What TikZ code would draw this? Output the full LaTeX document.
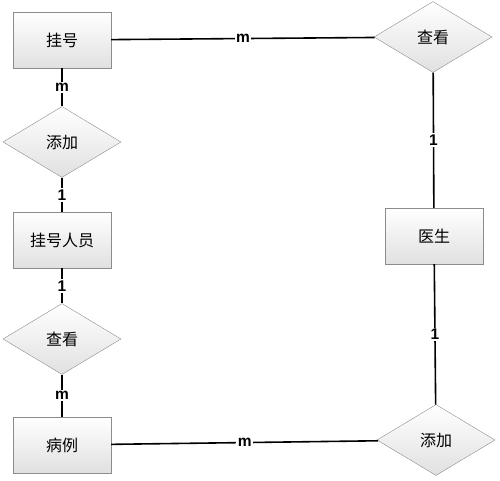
\documentclass[tikz,border=0pt]{standalone}
\usepackage{fontspec}
\newfontfamily\cjk{Noto Sans CJK SC}
\newfontfamily\card{Liberation Sans}
\usetikzlibrary{shapes.geometric}

\begin{document}
\begin{tikzpicture}[
            x=1pt, y=-1pt,
            entity/.style={rectangle,draw=black!45,top color=white,bottom color=black!12,
                minimum width=98pt,minimum height=56pt,font=\cjk\fontsize{16}{16}\selectfont},
            rel/.style={diamond,draw=black!45,top color=white,bottom color=black!12,inner sep=0pt,
                minimum width=118pt,minimum height=71pt,font=\cjk\fontsize{16}{16}\selectfont},
            conn/.style={line width=1.6pt},
            card/.style={fill=white,inner sep=1.5pt,font=\card\bfseries\fontsize{15.5}{15.5}\selectfont}]
            \useasboundingbox (0,0) rectangle (500,480);
            \node[entity](guahao) at (62,40){挂号};
            \node[rel](addreg) at (62,142){添加};
            \node[entity](staff) at (62,240){挂号人员};
            \node[rel](viewcase) at (62,339){查看};
            \node[entity](cases) at (62,445){病例};
            \node[rel](viewreg) at (433,37){查看};
            \node[entity](doctor) at (434,236){医生};
            \node[rel](addcase) at (436,440){添加};
            
            \path[conn] (guahao)  edge node[card]{m} (viewreg)
            (guahao)  edge node[card]{m} (addreg)
            (addreg)  edge node[card]{1} (staff)
            (staff)   edge node[card]{1} (viewcase)
            (viewcase) edge node[card]{m} (cases)
            (viewreg) edge node[card]{1} (doctor)
            (doctor)  edge node[card]{1} (addcase)
            (cases)   edge node[card]{m} (addcase);
            \end{tikzpicture}
\end{document}
